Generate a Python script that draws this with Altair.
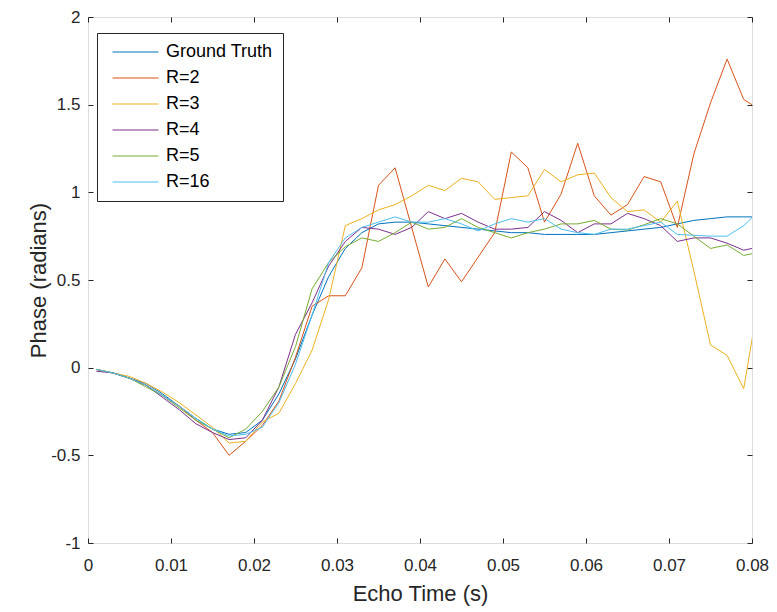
import altair as alt
import pandas as pd

time_s = [0.001, 0.003, 0.005, 0.007, 0.009, 0.011, 0.013, 0.015, 0.017, 0.019,
          0.021, 0.023, 0.025, 0.027, 0.029, 0.031, 0.033, 0.035, 0.037, 0.039,
          0.041, 0.043, 0.045, 0.047, 0.049, 0.051, 0.053, 0.055, 0.057, 0.059,
          0.061, 0.063, 0.065, 0.067, 0.069, 0.071, 0.073, 0.075, 0.077, 0.079, 0.081]

ground_truth = [-0.01, -0.03, -0.06, -0.09, -0.15, -0.22, -0.29, -0.35, -0.38, -0.37,
                -0.30, -0.15, 0.05, 0.30, 0.52, 0.68, 0.77, 0.82, 0.83, 0.83,
                0.82, 0.81, 0.80, 0.79, 0.78, 0.77, 0.77, 0.76, 0.76, 0.76,
                0.76, 0.77, 0.78, 0.79, 0.80, 0.82, 0.84, 0.85, 0.86, 0.86, 0.86]
r2 = [-0.01, -0.03, -0.06, -0.10, -0.16, -0.22, -0.30, -0.37, -0.50, -0.42,
      -0.33, -0.19, 0.06, 0.35, 0.41, 0.41, 0.57, 1.04, 1.14, 0.80,
      0.46, 0.62, 0.49, 0.63, 0.77, 1.23, 1.14, 0.83, 0.99, 1.28,
      0.98, 0.87, 0.93, 1.09, 1.06, 0.80, 1.22, 1.51, 1.76, 1.53, 1.47]
r3 = [-0.01, -0.03, -0.05, -0.09, -0.14, -0.20, -0.27, -0.34, -0.43, -0.42,
      -0.31, -0.26, -0.09, 0.10, 0.39, 0.81, 0.85, 0.90, 0.93, 0.98,
      1.04, 1.01, 1.08, 1.06, 0.96, 0.97, 0.98, 1.13, 1.06, 1.10,
      1.11, 0.97, 0.89, 0.90, 0.83, 0.95, 0.55, 0.13, 0.07, -0.12, 0.44]
r4 = [-0.02, -0.03, -0.06, -0.10, -0.17, -0.24, -0.32, -0.37, -0.41, -0.40,
      -0.30, -0.11, 0.19, 0.37, 0.58, 0.72, 0.80, 0.79, 0.76, 0.80,
      0.89, 0.85, 0.88, 0.83, 0.79, 0.79, 0.80, 0.89, 0.84, 0.77,
      0.82, 0.82, 0.88, 0.85, 0.81, 0.72, 0.74, 0.74, 0.71, 0.67, 0.69]
r5 = [-0.01, -0.03, -0.06, -0.11, -0.16, -0.23, -0.30, -0.35, -0.40, -0.35,
      -0.25, -0.11, 0.12, 0.45, 0.60, 0.69, 0.74, 0.72, 0.77, 0.83,
      0.79, 0.80, 0.85, 0.80, 0.77, 0.74, 0.77, 0.79, 0.82, 0.82,
      0.84, 0.79, 0.785, 0.815, 0.85, 0.82, 0.75, 0.68, 0.70, 0.64, 0.66]
r16 = [-0.01, -0.03, -0.06, -0.10, -0.16, -0.22, -0.29, -0.35, -0.39, -0.38,
       -0.34, -0.20, 0.02, 0.30, 0.60, 0.74, 0.80, 0.83, 0.86, 0.83,
       0.83, 0.85, 0.82, 0.78, 0.82, 0.85, 0.83, 0.85, 0.79, 0.77,
       0.76, 0.79, 0.79, 0.81, 0.83, 0.76, 0.755, 0.75, 0.75, 0.81, 0.90]

series_names = ["Ground Truth", "R=2", "R=3", "R=4", "R=5", "R=16"]
series_values = [ground_truth, r2, r3, r4, r5, r16]
colors = ["#0072BD", "#D95319", "#EDB120", "#7E2F8E", "#77AC30", "#4DBEEE"]

x_ticks = [0, 0.01, 0.02, 0.03, 0.04, 0.05, 0.06, 0.07, 0.08]
y_ticks = [-1, -0.5, 0, 0.5, 1, 1.5, 2]

rows = []
for name, vals in zip(series_names, series_values):
    for t, v in zip(time_s, vals):
        rows.append({"t": t, "phase": v, "series": name})
df = pd.DataFrame(rows)

FONT = "Liberation Sans"
INK = "#262626"

xscale = alt.Scale(domain=[0, 0.08], nice=False, zero=False)
yscale = alt.Scale(domain=[-1, 2], nice=False, zero=False)

common = dict(grid=False, domain=False, ticks=True, tickSize=5, tickColor=INK,
              tickWidth=1, offset=-5, labelFont=FONT, labelFontSize=17,
              labelColor=INK, titleFont=FONT, titleFontSize=22,
              titleColor=INK, titleFontWeight="normal", labelFlush=False,
              labelExpr="datum.value + ''")

lines = alt.Chart(df).mark_line(strokeWidth=1, clip=True).encode(
    x=alt.X("t:Q", scale=xscale,
            axis=alt.Axis(orient="bottom", values=x_ticks, title="Echo Time (s)",
                          labelPadding=14, titlePadding=10, **common)),
    y=alt.Y("phase:Q", scale=yscale,
            axis=alt.Axis(orient="left", values=y_ticks, title="Phase (radians)",
                          labelPadding=8, titlePadding=0, **common)),
    color=alt.Color("series:N", title=None,
                    scale=alt.Scale(domain=series_names, range=colors),
                    legend=alt.Legend(orient="none", legendX=9, legendY=16,
                                      fillColor="white", strokeColor=INK,
                                      padding=10, symbolType="stroke",
                                      symbolSize=2116, symbolStrokeWidth=1,
                                      symbolOffset=5, clipHeight=18,
                                      labelFont=FONT, labelFontSize=18,
                                      labelColor="black", rowPadding=8,
                                      labelOffset=7)),
)

frame = alt.Chart(df).mark_line(opacity=0).encode(
    x=alt.X("t:Q", scale=xscale,
            axis=alt.Axis(orient="top", values=x_ticks, labels=False, title="",
                          grid=False, domain=False, tickSize=5, tickColor=INK,
                          offset=-5)),
    y=alt.Y("phase:Q", scale=yscale,
            axis=alt.Axis(orient="right", values=y_ticks, labels=False, title="",
                          grid=False, domain=False, tickSize=5, tickColor=INK,
                          offset=-5)),
)

chart = alt.layer(lines, frame).resolve_axis(x="independent", y="independent").properties(
    width=664, height=526,
    autosize=alt.AutoSizeParams(type="none"),
    padding={"left": 80, "top": 9, "right": 17, "bottom": 68},
).configure_view(stroke=INK, strokeWidth=1).configure(background="white")

chart.save("out.html", embed_options={"renderer": "svg", "actions": False})
